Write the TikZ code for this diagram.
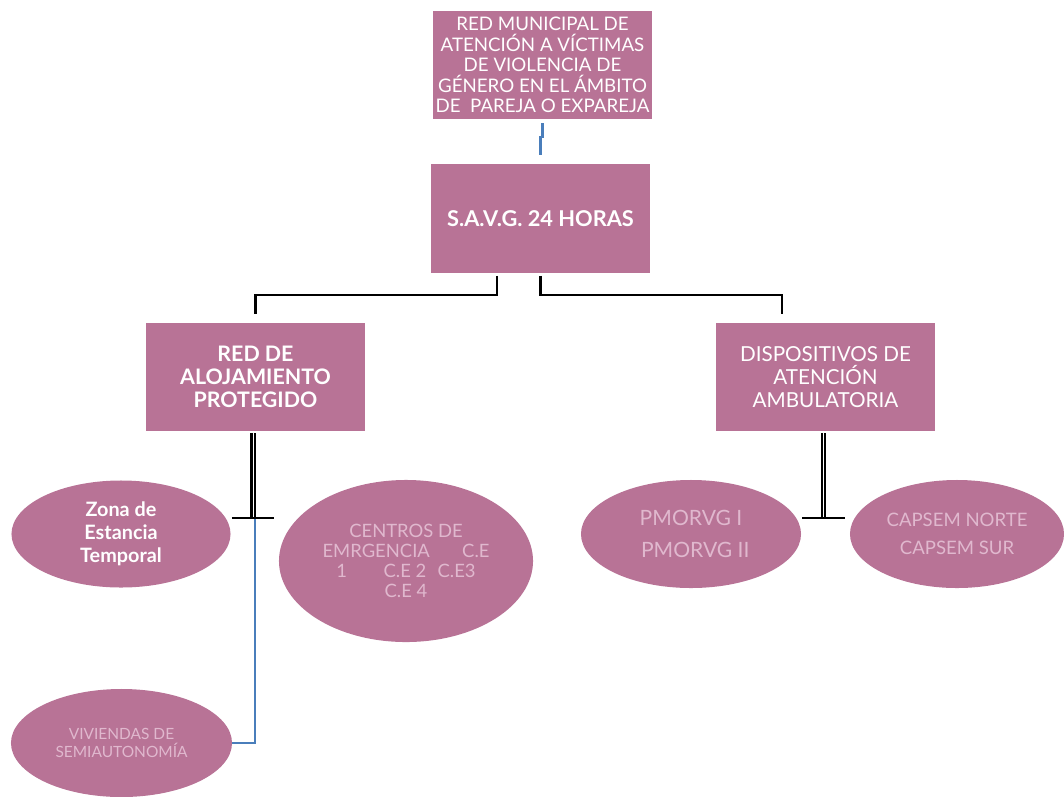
\documentclass[tikz,border=0pt]{standalone}
\usepackage{fontspec}
\setmainfont{Lato}
\usetikzlibrary{positioning,calc,shapes.geometric}
\definecolor{redpink}{RGB}{184,115,150}
\definecolor{redlight}{RGB}{224,184,206}
\definecolor{redblue}{RGB}{74,126,187}

\begin{document}
\begin{tikzpicture}[x=0.025cm,y=-0.025cm,
  box/.style={rectangle,fill=redpink,text=white,minimum width=5.475cm,minimum height=2.7cm,inner sep=0pt,align=center},
  blob/.style={ellipse,fill=redpink,text=redlight,inner sep=0pt,align=center},
  link/.style={black,line width=1.7pt},
  twin/.style={black,line width=1.5pt,double=white,double distance=0.6pt},
  blueline/.style={redblue,line width=1.7pt}]
\useasboundingbox (0,0) rectangle (1064,796);

% TOP: red municipal + S.A.V.G.
\node[box,font=\fontsize{13.3}{14.6}\selectfont] (red) at (542.5,65) {RED MUNICIPAL DE\\ATENCIÓN A VÍCTIMAS\\DE VIOLENCIA DE\\GÉNERO EN EL ÁMBITO\\DE\ \ PAREJA O EXPAREJA};
\node[box,font=\fontsize{15.5}{18}\selectfont\bfseries] (savg) at (540.5,218.5) {S.A.V.G. 24 HORAS};
\draw[blueline] ($(red.south)+(0,4)$) -- ++(0,14) -| ($(savg.north)+(0,-9)$);

% MIDDLE: the two branches
\node[box,font=\fontsize{15.2}{16.6}\selectfont\bfseries] (aloj) at (255.5,377) {RED DE\\ALOJAMIENTO\\PROTEGIDO};
\node[box,font=\fontsize{14.7}{16.6}\selectfont] (disp) at (825.5,377) {DISPOSITIVOS DE\\ATENCIÓN\\AMBULATORIA};
\draw[link] ($(savg.south)+(-43.5,3)$) -- ++(0,19) -| ($(aloj.north)+(0,-9)$);
\draw[link] ($(savg.south)+(0,3)$) -- ++(0,19) -| ($(disp.north)+(-43.5,-9)$);

% LEFT: alojamiento protegido
\node[blob,minimum width=5.475cm,minimum height=2.675cm,text=white,font=\fontsize{14.1}{16.4}\selectfont\bfseries] (zona) at (121,534) {Zona de\\Estancia\\Temporal};
\node[blob,minimum width=6.35cm,minimum height=4.05cm,font=\fontsize{13.1}{14.2}\selectfont] (centros) at (406,561) {CENTROS DE\\EMRGENCIA\hspace{23pt}C.E\\1\hspace{26pt}C.E 2\hspace{8pt}C.E3\\C.E 4};
\node[blob,minimum width=5.525cm,minimum height=2.7cm,font=\fontsize{11}{12.8}\selectfont] (viv) at (121.5,743) {VIVIENDAS DE\\SEMIAUTONOMÍA};
\coordinate (ljoin) at (253,518);
\draw[twin] ($(aloj.south)+(-2.5,2)$) -- (ljoin);
\draw[link,line width=1.5pt] ($(zona.east)+(1,-16)$) -- ($(ljoin)+(21,0)$);
\draw[blueline] ($(ljoin)+(2,1)$) |- (viv.east);

% RIGHT: dispositivos ambulatorios
\node[blob,minimum width=5.5cm,minimum height=2.7cm,font=\fontsize{15}{22.8}\selectfont] (pmorvg) at (691,534) {PMORVG I\\\hspace{6pt}PMORVG II};
\node[blob,minimum width=5.35cm,minimum height=2.7cm,font=\fontsize{13.2}{20}\selectfont] (capsem) at (957,534) {CAPSEM NORTE\\CAPSEM SUR};
\coordinate (rjoin) at (823.5,518);
\draw[twin] ($(disp.south)+(-2,2)$) -- (rjoin);
\draw[link,line width=1.5pt] ($(pmorvg.east)+(1,-16)$) -- ($(rjoin)+(21.5,0)$);

\end{tikzpicture}
\end{document}
